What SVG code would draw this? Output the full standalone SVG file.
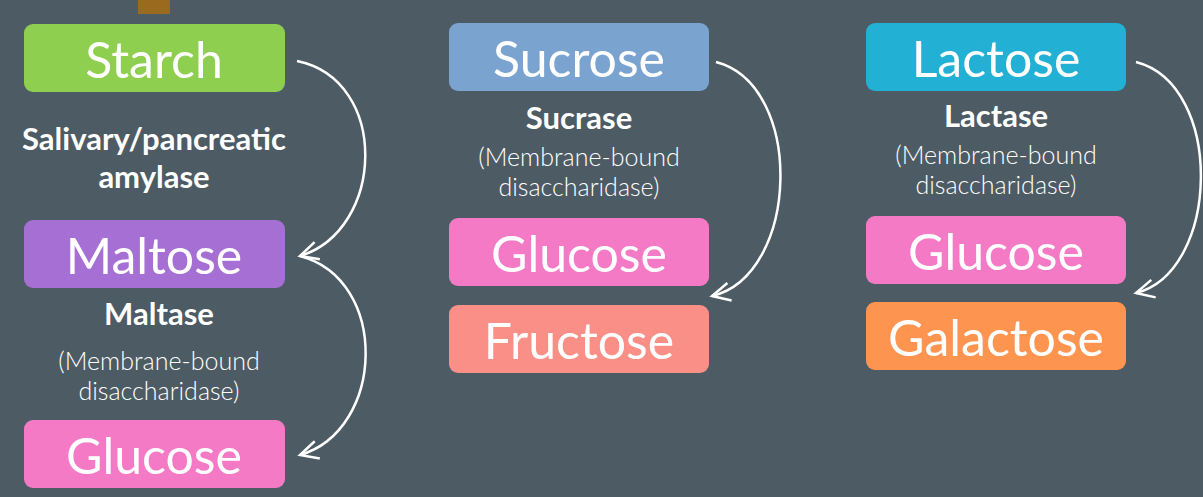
<svg xmlns="http://www.w3.org/2000/svg" width="1203" height="497" viewBox="0 0 1203 497">
<style>
.b text{fill:#fff;font-family:Lato,"Open Sans",sans-serif;font-size:50px;text-anchor:middle}
.t{fill:#fff;font-family:Lato,"Open Sans",sans-serif;text-anchor:middle}
.h{font-size:31px;font-weight:bold}
.s{font-size:25px;font-weight:300}
.c path{fill:none;stroke:#fff;stroke-width:2.5;marker-end:url(#a)}
</style>
<defs><marker id="a" markerWidth="24" markerHeight="24" refX="20" refY="12" orient="auto" markerUnits="userSpaceOnUse"><path d="M2,3 L20,12 L2,21" fill="none" stroke="#fff" stroke-width="2.5"/></marker></defs>
<rect width="1203" height="497" fill="#4d5b64"/>
<rect x="138" y="0" width="32" height="14" fill="#9a6a1e"/>
<g id="starch" class="b"><rect x="24" y="24" width="261" height="68" rx="9" fill="#8fcf4f"/><text x="154" y="78">Starch</text></g>
<g id="maltose" class="b"><rect x="24" y="220" width="261" height="68" rx="9" fill="#a66fd4"/><text x="154" y="274">Maltose</text></g>
<g id="glucose1" class="b"><rect x="24" y="420" width="261" height="68" rx="9" fill="#f57ac6"/><text x="154" y="474">Glucose</text></g>
<g id="sucrose" class="b"><rect x="449" y="23" width="260" height="68" rx="9" fill="#7ba3cf"/><text x="579" y="77">Sucrose</text></g>
<g id="glucose2" class="b"><rect x="449" y="218" width="260" height="68" rx="9" fill="#f57ac6"/><text x="579" y="272">Glucose</text></g>
<g id="fructose" class="b"><rect x="449" y="305" width="260" height="68" rx="9" fill="#f98f86"/><text x="579" y="359">Fructose</text></g>
<g id="lactose" class="b"><rect x="866" y="23" width="260" height="68" rx="9" fill="#22b0d4"/><text x="996" y="77">Lactose</text></g>
<g id="glucose3" class="b"><rect x="866" y="216" width="260" height="68" rx="9" fill="#f57ac6"/><text x="996" y="270">Glucose</text></g>
<g id="galactose" class="b"><rect x="866" y="302" width="260" height="68" rx="9" fill="#fd9551"/><text x="996" y="356">Galactose</text></g>
<g id="labels">
<text class="t h" x="154" y="150">Salivary/pancreatic</text>
<text class="t h" x="154" y="188">amylase</text>
<text class="t h" x="159" y="325">Maltase</text>
<text class="t s" x="159" y="370">(Membrane-bound</text>
<text class="t s" x="159" y="400">disaccharidase)</text>
<text class="t h" x="579" y="129">Sucrase</text>
<text class="t s" x="579" y="166">(Membrane-bound</text>
<text class="t s" x="579" y="196">disaccharidase)</text>
<text class="t h" x="996" y="127">Lactase</text>
<text class="t s" x="996" y="164">(Membrane-bound</text>
<text class="t s" x="996" y="194">disaccharidase)</text>
</g>
<g id="connectors" class="c">
<path d="M297,61 C390,80 385,230 300,256"/>
<path d="M300,256 C390,280 385,430 300,455"/>
<path d="M716,62 C805,85 800,275 712,296"/>
<path d="M1136,62 C1225,85 1220,272 1136,293"/>
</g>
</svg>
